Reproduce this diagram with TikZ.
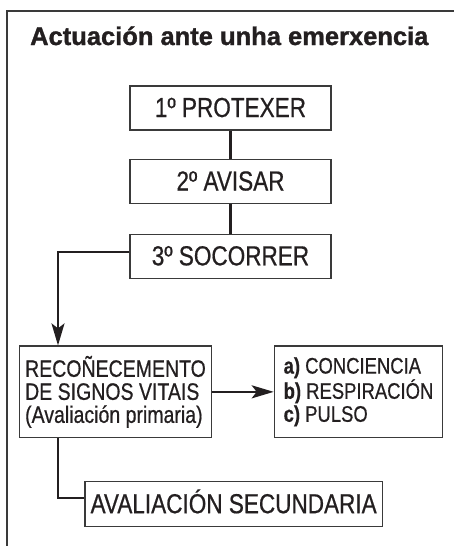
\documentclass[tikz,border=0pt]{standalone}
\usepackage{fontspec}
\setmainfont{Liberation Sans}
\newfontfamily\condfont[FakeStretch=0.82,FakeBold=0.6]{Liberation Sans}
\newfontfamily\titlefont[FakeStretch=1.0,FakeBold=1.2]{Liberation Sans}
\usetikzlibrary{arrows.meta}
\definecolor{ink}{HTML}{231F20}
\definecolor{edge}{HTML}{3A3A3A}
\begin{document}
\begin{tikzpicture}[x=1pt,y=-1pt,
  box/.style={draw=edge, line width=1.2pt, inner sep=0pt, text=ink,
    text height=18pt, text depth=0pt,
    font=\condfont\fontsize{27.5}{30}\selectfont},
  smallbox/.style={draw=edge, line width=1.2pt, inner sep=0pt, text=ink, align=left},
  conn/.style={draw=ink, line width=2.3pt},
  arr/.style={conn, -{Stealth[length=22pt,width=13pt,inset=5pt]}}]
\useasboundingbox (0,0) rectangle (454,546);
\draw[edge, line width=1.2pt] (7,546) -- (7,11) -- (454,11);
\node[anchor=base west, text=ink, inner sep=0pt,
  font=\titlefont\bfseries\fontsize{25.5}{28}\selectfont] (title) at (30,45) {Actuación ante unha emerxencia};
\node[box, minimum width=201pt, minimum height=44pt] (b1) at (230.5,108) {1º PROTEXER};
\node[box, minimum width=201pt, minimum height=44.5pt] (b2) at (230.5,181.5) {2º AVISAR};
\node[box, minimum width=201pt, minimum height=44pt] (b3) at (230.5,256.3) {3º SOCORRER};
\node[smallbox, minimum width=192.4pt, minimum height=91.7pt,
  font=\condfont\fontsize{23.8}{23}\selectfont] (b4) at (115.5,391.85)
  {RECOÑECEMENTO\\DE SIGNOS VITAIS\\(Avaliación primaria)};
\node[smallbox, minimum width=168.4pt, minimum height=91.7pt,
  font=\condfont\fontsize{22.5}{23}\selectfont] (b5) at (358.5,391.85)
  {\textbf{a)} CONCIENCIA\\\textbf{b)} RESPIRACIÓN\\\textbf{c)} PULSO};
\node[box, minimum width=297.3pt, minimum height=45pt] (b6) at (233.65,504.2) {AVALIACIÓN SECUNDARIA};
\coordinate (c1) at (58,252.3);
\coordinate (c2) at (58,498);
\draw[conn] (b1) -- (b2);
\draw[conn] (b2) -- (b3);
\draw[arr] (b3.west |- c1) -- (c1) -- (c1 |- b4.north);
\draw[arr] (b4) -- (b5);
\draw[conn] (c2 |- b4.south) -- (c2) -- (b6.west |- c2);
\end{tikzpicture}
\end{document}
